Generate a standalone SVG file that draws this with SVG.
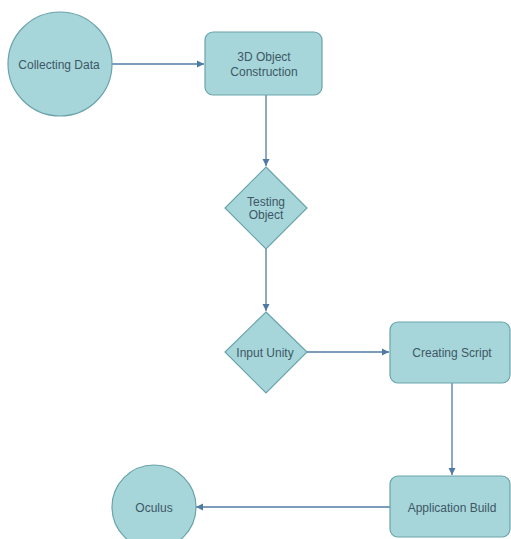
<svg xmlns="http://www.w3.org/2000/svg" width="511" height="539" viewBox="0 0 511 539">
<style>
.n{fill:#a6d6d9;stroke:#6aa3ab;stroke-width:1.2}
.t{font-family:"Liberation Sans",Arial,sans-serif;font-size:12px;fill:#3e5666;text-anchor:middle}
.c{stroke:#4f7ba3;stroke-width:1.3;fill:none;marker-end:url(#a)}
</style>
<defs>
<marker id="a" markerWidth="8" markerHeight="8" refX="7" refY="4" orient="auto" markerUnits="userSpaceOnUse">
<path d="M0,0.5 L7,4 L0,7.5 Z" fill="#4f7ba3"/>
</marker>
</defs>
<rect width="511" height="539" fill="#ffffff"/>
<g id="connectors">
<path class="c" d="M112,64 H204"/>
<path class="c" d="M266,95 V166"/>
<path class="c" d="M266,249 V311"/>
<path class="c" d="M307,352 H389"/>
<path class="c" d="M452,383 V475"/>
<path class="c" d="M390,507 H196"/>
</g>
<g id="collecting">
<circle class="n" cx="60" cy="64" r="52"/>
<text class="t" x="59" y="69">Collecting Data</text>
</g>
<g id="construction">
<rect class="n" x="205" y="32" width="117" height="63" rx="8"/>
<text class="t" x="264" y="61">3D Object</text>
<text class="t" x="264" y="76">Construction</text>
</g>
<g id="testing">
<path class="n" d="M266,167 L307,208 L266,249 L225,208 Z"/>
<text class="t" x="266" y="206">Testing</text>
<text class="t" x="266" y="219">Object</text>
</g>
<g id="input">
<path class="n" d="M266,312 L307,352 L266,393 L225,352 Z"/>
<text class="t" x="265" y="357">Input Unity</text>
</g>
<g id="script">
<rect class="n" x="390" y="322" width="120" height="61" rx="8"/>
<text class="t" x="452" y="357">Creating Script</text>
</g>
<g id="build">
<rect class="n" x="390" y="476" width="120" height="61" rx="8"/>
<text class="t" x="452" y="512">Application Build</text>
</g>
<g id="oculus">
<circle class="n" cx="154" cy="507" r="42"/>
<text class="t" x="154" y="512">Oculus</text>
</g>
</svg>
